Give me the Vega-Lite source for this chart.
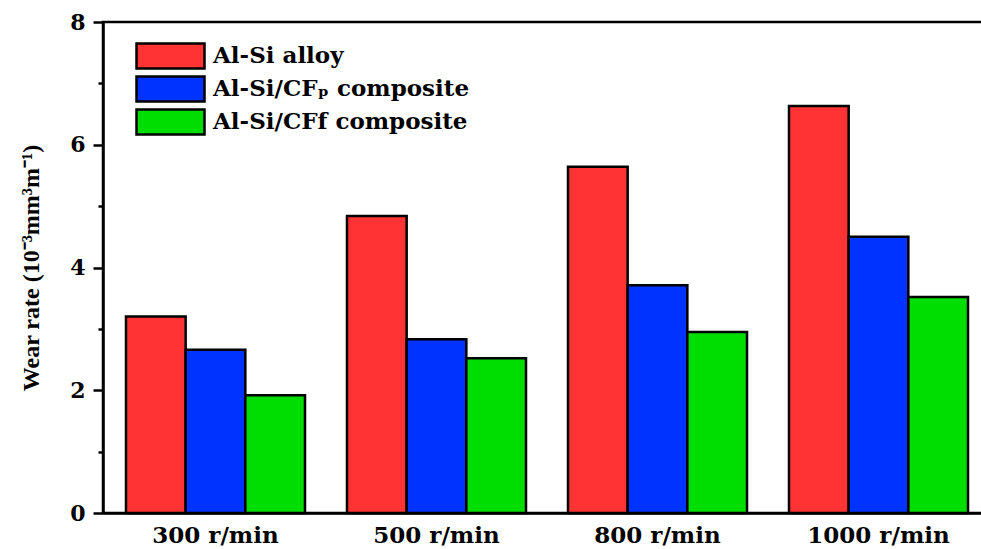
{
  "$schema": "https://vega.github.io/schema/vega-lite/v6.json",
  "width": 888,
  "height": 491,
  "autosize": {"type": "none"},
  "padding": {"left": 103, "top": 22, "right": 0, "bottom": 36},
  "background": "white",
  "config": {
    "font": "DejaVu Serif",
    "view": {"stroke": "black", "strokeWidth": 2.5}
  },
  "data": {
    "values": [
      {"speed": "300 r/min", "material": "Al-Si alloy", "wear": 3.20},
      {"speed": "300 r/min", "material": "Al-Si/CFₚ composite", "wear": 2.66},
      {"speed": "300 r/min", "material": "Al-Si/CFf  composite", "wear": 1.92},
      {"speed": "500 r/min", "material": "Al-Si alloy", "wear": 4.84},
      {"speed": "500 r/min", "material": "Al-Si/CFₚ composite", "wear": 2.83},
      {"speed": "500 r/min", "material": "Al-Si/CFf  composite", "wear": 2.52},
      {"speed": "800 r/min", "material": "Al-Si alloy", "wear": 5.64},
      {"speed": "800 r/min", "material": "Al-Si/CFₚ composite", "wear": 3.71},
      {"speed": "800 r/min", "material": "Al-Si/CFf  composite", "wear": 2.95},
      {"speed": "1000 r/min", "material": "Al-Si alloy", "wear": 6.63},
      {"speed": "1000 r/min", "material": "Al-Si/CFₚ composite", "wear": 4.50},
      {"speed": "1000 r/min", "material": "Al-Si/CFf  composite", "wear": 3.52}
    ]
  },
  "mark": {"type": "bar", "stroke": "black", "strokeWidth": 2.5, "opacity": 1},
  "encoding": {
    "x": {
      "field": "speed",
      "type": "nominal",
      "sort": ["300 r/min", "500 r/min", "800 r/min", "1000 r/min"],
      "scale": {"paddingInner": 0.19, "paddingOuter": 0.104},
      "axis": {
        "title": null,
        "labelAngle": 0,
        "ticks": false,
        "domainColor": "black",
        "domainWidth": 2.5,
        "labelFont": "DejaVu Serif",
        "labelFontSize": 23,
        "labelFontWeight": "bold",
        "labelColor": "black",
        "labelPadding": 11
      }
    },
    "xOffset": {
      "field": "material",
      "type": "nominal",
      "sort": ["Al-Si alloy", "Al-Si/CFₚ composite", "Al-Si/CFf  composite"],
      "scale": {"paddingInner": 0, "paddingOuter": 0}
    },
    "y": {
      "field": "wear",
      "type": "quantitative",
      "scale": {"domain": [0, 8], "nice": false},
      "axis": {
        "title": "Wear rate (10⁻³mm³m⁻¹)",
        "titleFont": "Liberation Serif",
        "titleFontSize": 24,
        "titleFontWeight": "bold",
        "titleColor": "black",
        "titlePadding": 26,
        "values": [0, 1, 2, 3, 4, 5, 6, 7, 8],
        "labelExpr": "datum.value % 2 == 0 ? datum.label : ''",
        "grid": false,
        "domainColor": "black",
        "domainWidth": 2.5,
        "tickColor": "black",
        "tickWidth": 2.5,
        "tickSize": {"condition": {"test": "datum.value % 2 == 1", "value": 5}, "value": 10},
        "labelFont": "DejaVu Serif",
        "labelFontSize": 22,
        "labelFontWeight": "bold",
        "labelColor": "black",
        "labelPadding": 8
      }
    },
    "color": {
      "field": "material",
      "type": "nominal",
      "sort": ["Al-Si alloy", "Al-Si/CFₚ composite", "Al-Si/CFf  composite"],
      "scale": {
        "domain": ["Al-Si alloy", "Al-Si/CFₚ composite", "Al-Si/CFf  composite"],
        "range": ["#FF3333", "#0033FF", "#00DD00"]
      },
      "legend": {
        "title": null,
        "orient": "none",
        "legendX": 53.5,
        "legendY": 20,
        "padding": 0,
        "symbolType": "M-2.72,-1H2.72V1H-2.72Z",
        "symbolSize": 625,
        "symbolStrokeColor": "black",
        "symbolStrokeWidth": 2.5,
        "symbolOpacity": 1,
        "labelFont": "DejaVu Serif",
        "labelFontSize": 23,
        "labelFontWeight": "bold",
        "labelColor": "black",
        "labelOffset": 28.5,
        "rowPadding": -3,
        "labelLimit": 500
      }
    }
  }
}
